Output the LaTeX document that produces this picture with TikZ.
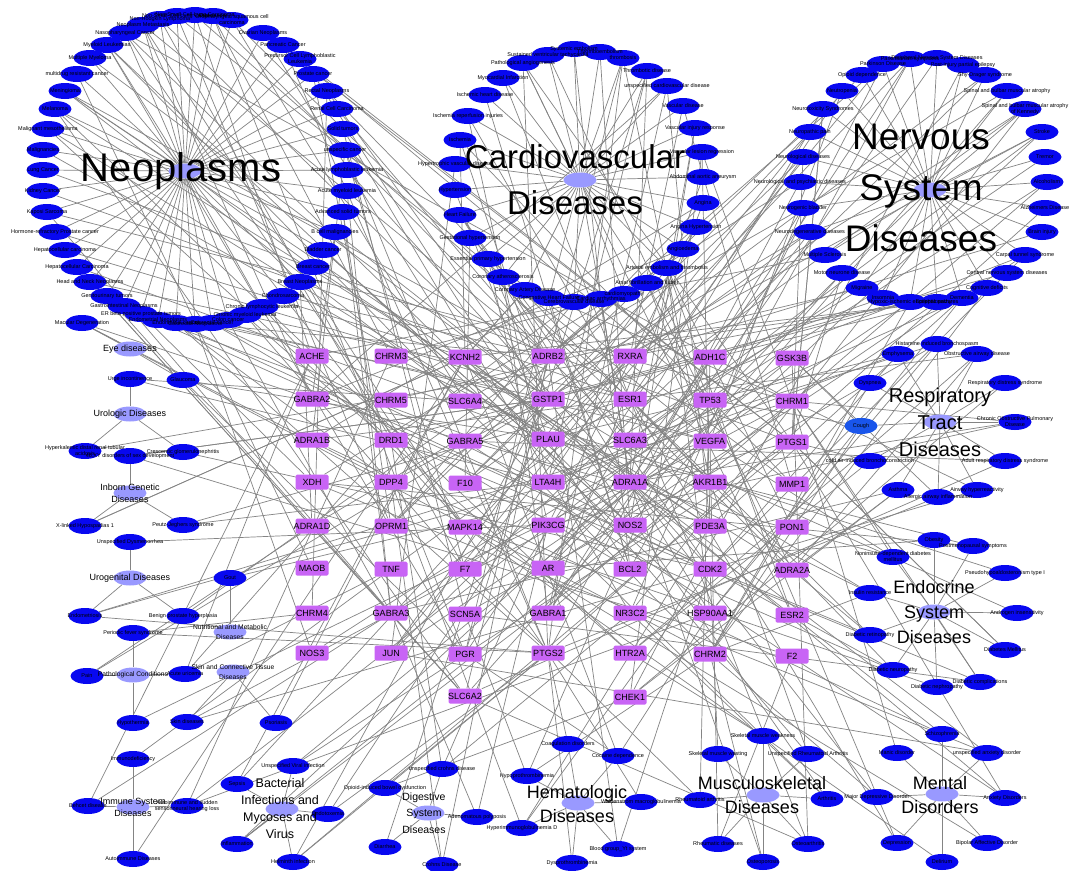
\documentclass[tikz,border=0pt]{standalone}
\usepackage{fontspec}
\usepackage{etoolbox}
\setmainfont{Liberation Sans}
\usetikzlibrary{shapes.geometric}
\definecolor{leafblue}{RGB}{8,8,240}
\definecolor{coughblue}{RGB}{25,85,235}
\definecolor{hubcol}{RGB}{153,153,255}
\definecolor{genecol}{RGB}{200,100,245}
\definecolor{edgecol}{RGB}{132,132,132}
\pgfdeclarelayer{bg}
\pgfsetlayers{bg,main}
\newcounter{lfc}
\newcommand{\myfs}[2]{\fontsize{#1}{#2}\selectfont}
\newcommand{\leaftexts}{}
\newcommand{\hubedges}{}
\tikzset{
  leaf/.style={ellipse, fill=leafblue, minimum width=33pt, minimum height=16pt, inner sep=0pt},
  cough/.style={leaf, fill=coughblue},
  ltext/.style={font=\myfs{5.5}{6}, align=center, inner sep=0pt, text=black},
  hub/.style={ellipse, fill=hubcol, minimum width=33pt, minimum height=15pt, inner sep=0pt},
  genebox/.style={rectangle, rounded corners=1.5pt, fill=genecol, minimum width=33pt, minimum height=15pt, inner sep=0pt},
  gtext/.style={font=\myfs{9}{10}, inner sep=0pt, text=black},
  edge/.style={draw=edgecol, line width=0.7pt},
  bigl/.style={align=center, inner sep=0pt, text=black},
}
\newcommand{\leafnode}[5][leaf]{%
  \stepcounter{lfc}%
  \node[#1] (L\arabic{lfc}) at (#2,#3) {};%
  \xappto\leaftexts{\noexpand\node[ltext] (L\arabic{lfc}t) at (L\arabic{lfc}) {\unexpanded{#4}};}%
  \xappto\hubedges{\noexpand\draw[edge] (L\arabic{lfc}) -- (#5);}%
}
\newcommand{\genenode}[3]{%
  \node[genebox] (#1) at (#2,#3) {};%
  \node[gtext] (#1t) at (#2,#3) {#1};%
}
\begin{document}
\begin{tikzpicture}[x=1pt,y=-1pt]
\useasboundingbox (0,0) rectangle (1072,871);

% ---------------- hubs ----------------
\node[hub] (hNeo) at (185,171) {};
\node[hub] (hCV) at (580,180) {};
\node[hub] (hNerv) at (930,190) {};
\node[hub] (hResp) at (940,422) {};
\node[hub] (hEndo) at (934,612) {};
\node[hub] (hMent) at (942,794) {};
\node[hub] (hMusc) at (763,795) {};
\node[hub] (hHem) at (578,803) {};
\node[hub] (hDig) at (428,813) {};
\node[hub] (hBac) at (282,809) {};
\node[hub] (hImm) at (133,807) {};
\node[hub] (hSkin) at (233,672) {};
\node[hub] (hPat) at (133,675) {};
\node[hub] (hNut) at (230,632) {};
\node[hub] (hUrog) at (130,578) {};
\node[hub] (hInb) at (130,493) {};
\node[hub] (hUrol) at (130,414) {};
\node[hub] (hEye) at (130,349) {};

% ---------------- genes ----------------
\genenode{ACHE}{312}{356}
\genenode{CHRM3}{391}{356}
\genenode{KCNH2}{465}{357}
\genenode{ADRB2}{548}{356}
\genenode{RXRA}{630}{356}
\genenode{ADH1C}{710}{357}
\genenode{GSK3B}{792}{358}
\genenode{GABRA2}{312}{399}
\genenode{CHRM5}{391}{400}
\genenode{SLC6A4}{465}{401}
\genenode{GSTP1}{548}{399}
\genenode{ESR1}{630}{399}
\genenode{TP53}{710}{400}
\genenode{CHRM1}{792}{401}
\genenode{ADRA1B}{312}{440}
\genenode{DRD1}{391}{440}
\genenode{GABRA5}{465}{441}
\genenode{PLAU}{548}{439}
\genenode{SLC6A3}{630}{440}
\genenode{VEGFA}{710}{441}
\genenode{PTGS1}{792}{442}
\genenode{XDH}{312}{482}
\genenode{DPP4}{391}{482}
\genenode{F10}{465}{483}
\genenode{LTA4H}{548}{482}
\genenode{ADRA1A}{630}{482}
\genenode{AKR1B1}{710}{482}
\genenode{MMP1}{792}{484}
\genenode{ADRA1D}{312}{526}
\genenode{OPRM1}{391}{526}
\genenode{MAPK14}{465}{527}
\genenode{PIK3CG}{548}{525}
\genenode{NOS2}{630}{525}
\genenode{PDE3A}{710}{526}
\genenode{PON1}{792}{527}
\genenode{MAOB}{312}{568}
\genenode{TNF}{391}{569}
\genenode{F7}{465}{569}
\genenode{AR}{548}{568}
\genenode{BCL2}{630}{569}
\genenode{CDK2}{710}{569}
\genenode{ADRA2A}{792}{570}
\genenode{CHRM4}{312}{613}
\genenode{GABRA3}{391}{613}
\genenode{SCN5A}{465}{614}
\genenode{GABRA1}{548}{613}
\genenode{NR3C2}{630}{613}
\genenode{HSP90AA1}{710}{613}
\genenode{ESR2}{792}{615}
\genenode{NOS3}{312}{653}
\genenode{JUN}{391}{653}
\genenode{PGR}{465}{654}
\genenode{PTGS2}{548}{653}
\genenode{HTR2A}{630}{653}
\genenode{CHRM2}{710}{654}
\genenode{F2}{792}{656}
\genenode{SLC6A2}{465}{696}
\genenode{CHEK1}{630}{697}

% ---------------- Neoplasms ----------------
\leafnode{347}{170}{Acute lymphoblastic leukemia}{hNeo}
\leafnode{347}{191}{Acute myeloid leukemia}{hNeo}
\leafnode{343}{212}{Advanced solid tumors}{hNeo}
\leafnode{335}{232}{B cell malignancies}{hNeo}
\leafnode{323}{250}{Bladder cancer}{hNeo}
\leafnode{313}{267}{Breast cancer}{hNeo}
\leafnode{300}{282}{Breast Neoplasms}{hNeo}
\leafnode{283}{296}{Chondrosarcoma}{hNeo}
\leafnode{262}{307}{Chronic lymphocytic leukemia}{hNeo}
\leafnode{245}{315}{Chronic myeloid leukemia}{hNeo}
\leafnode{228}{320}{Colon cancer}{hNeo}
\leafnode{212}{323}{Colorectal cancer}{hNeo}
\leafnode{195}{324}{Colorectal Neoplasms}{hNeo}
\leafnode{176}{323}{Endometrial cancer}{hNeo}
\leafnode{158}{320}{Endometrial Neoplasms}{hNeo}
\leafnode{141}{314}{ER beta positive prostate tumors}{hNeo}
\leafnode{124}{306}{Gastrointestinal Neoplasms}{hNeo}
\leafnode{107}{296}{Genitourinary tumors}{hNeo}
\leafnode{90}{282}{Head and Neck Neoplasms}{hNeo}
\leafnode{77}{267}{Hepatocellular Carcinoma}{hNeo}
\leafnode{65}{250}{Hepatocellular carcinoma}{hNeo}
\leafnode{55}{232}{Hormone-refractory Prostate cancer}{hNeo}
\leafnode{47}{212}{Kaposi Sarcoma}{hNeo}
\leafnode{43}{191}{Kidney Cancer}{hNeo}
\leafnode{43}{170}{Lung Cancer}{hNeo}
\leafnode{43}{150}{Malignancies}{hNeo}
\leafnode{48}{129}{Malignant mesothelioma}{hNeo}
\leafnode{55}{109}{Melanoma}{hNeo}
\leafnode{65}{91}{Meningioma}{hNeo}
\leafnode{77}{74}{multidrug resistant cancer}{hNeo}
\leafnode{90}{58}{Multiple Myeloma}{hNeo}
\leafnode{107}{45}{Myeloid Leukemias}{hNeo}
\leafnode{125}{33}{Nasopharyngeal Cancer}{hNeo}
\leafnode{143}{25}{Neoplasm Metastasis}{hNeo}
\leafnode{160}{19}{Non-Hodgkin Lymphoma}{hNeo}
\leafnode{177}{16}{Non-Small-Cell Lung Cancer}{hNeo}
\leafnode{195}{15}{Non-Small-Cell-Lung Carcinoma}{hNeo}
\leafnode{213}{16}{Oral cancer}{hNeo}
\leafnode{232}{20}{Oropharyngeal squamous cell\\carcinoma}{hNeo}
\leafnode{263}{33}{Ovarian Neoplasms}{hNeo}
\leafnode{283}{45}{Pancreatic Cancer}{hNeo}
\leafnode{300}{59}{Precursor Cell Lymphoblastic\\Leukemia}{hNeo}
\leafnode{313}{74}{Prostate cancer}{hNeo}
\leafnode{327}{91}{Rectal Neoplasms}{hNeo}
\leafnode{337}{109}{Renal Cell Carcinoma}{hNeo}
\leafnode{343}{129}{Solid tumors}{hNeo}
\leafnode{345}{150}{unspecific cancer}{hNeo}

% ---------------- Cardiovascular ----------------
\leafnode{703}{177}{Abdominal aortic aneurysm}{hCV}
\leafnode{703}{203}{Angina}{hCV}
\leafnode{696}{227}{Angina Hypertension}{hCV}
\leafnode{683}{249}{Angioedema}{hCV}
\leafnode{667}{268}{Arterial embolism and thrombosis}{hCV}
\leafnode{647}{283}{Atrial fibrillation and flutter}{hCV}
\leafnode{624}{294}{cardiomyopathy}{hCV}
\leafnode{601}{299}{Cardiac arrhythmias}{hCV}
\leafnode{574}{302}{Cerebrovascular disease}{hCV}
\leafnode{549}{298}{Congestive Heart Failure}{hCV}
\leafnode{525}{290}{Coronary Artery Disease}{hCV}
\leafnode{503}{277}{Coronary atherosclerosis}{hCV}
\leafnode{488}{259}{Essential primary hypertension}{hCV}
\leafnode{470}{238}{Gestational hypertension}{hCV}
\leafnode{460}{215}{Heart Failure}{hCV}
\leafnode{455}{190}{Hypertension}{hCV}
\leafnode{455}{164}{Hypertrophic vascular disease}{hCV}
\leafnode{460}{140}{Ischemia}{hCV}
\leafnode{468}{116}{Ischemia reperfusion injuries}{hCV}
\leafnode{485}{95}{Ischemic heart disease}{hCV}
\leafnode{503}{78}{Myocardial Infarction}{hCV}
\leafnode{523}{63}{Pathological angiogenesis}{hCV}
\leafnode{548}{55}{Sustained ventricular tachycardia}{hCV}
\leafnode{574}{49}{Systemic embolism}{hCV}
\leafnode{600}{52}{Thromboembolism}{hCV}
\leafnode{623}{58}{thrombosis}{hCV}
\leafnode{647}{71}{Thrombotic disease}{hCV}
\leafnode{667}{86}{unspecified cardiovascular disease}{hCV}
\leafnode{683}{106}{Vascular disease}{hCV}
\leafnode{695}{128}{Vascular injury response}{hCV}
\leafnode{702}{152}{Vascular lesion regression}{hCV}

% ---------------- Nervous ----------------
\leafnode{1047}{182}{Alcoholism}{hNerv}
\leafnode{1045}{208}{Alzheimers Disease}{hNerv}
\leafnode{1042}{232}{Brain injury}{hNerv}
\leafnode{1025}{255}{Carpal tunnel syndrome}{hNerv}
\leafnode{1007}{273}{Central nervous system diseases}{hNerv}
\leafnode{987}{288}{Cognitive deficits}{hNerv}
\leafnode{962}{298}{Dementia}{hNerv}
\leafnode{937}{302}{Epileptic seizures}{hNerv}
\leafnode{910}{302}{Hypoxic-ischemic encephalopathy}{hNerv}
\leafnode{883}{298}{Insomnia}{hNerv}
\leafnode{862}{288}{Migraine}{hNerv}
\leafnode{842}{273}{Motor neurone disease}{hNerv}
\leafnode{825}{255}{Multiple Sclerosis}{hNerv}
\leafnode{810}{232}{Neurodegenerative diseases}{hNerv}
\leafnode{803}{208}{Neurogenic bladder}{hNerv}
\leafnode{800}{182}{Neurological and psychiatric diseases}{hNerv}
\leafnode{803}{157}{Neurological diseases}{hNerv}
\leafnode{810}{132}{Neuropathic pain}{hNerv}
\leafnode{823}{109}{Neurotoxicity Syndromes}{hNerv}
\leafnode{842}{91}{Neutropenia}{hNerv}
\leafnode{862}{75}{Opioid dependence}{hNerv}
\leafnode{883}{64}{Parkinson Disease}{hNerv}
\leafnode{910}{59}{Parkinsonian symptoms}{hNerv}
\leafnode{937}{58}{Peripheral Nervous System Diseases}{hNerv}
\leafnode{963}{65}{Post-injury partial epilepsy}{hNerv}
\leafnode{985}{75}{Shy-Drager syndrome}{hNerv}
\leafnode{1007}{91}{Spinal and bulbar muscular atrophy}{hNerv}
\leafnode{1025}{109}{Spinal and bulbar muscular atrophy\\of Kennedy}{hNerv}
\leafnode{1042}{132}{Stroke}{hNerv}
\leafnode{1045}{157}{Tremor}{hNerv}

% ---------------- Respiratory ----------------
\leafnode{937}{344}{Histamine induced bronchospasm}{hResp}
\leafnode{898}{354}{Emphysema}{hResp}
\leafnode{977}{354}{Obstructive airway disease}{hResp}
\leafnode{870}{383}{Dyspnea}{hResp}
\leafnode{1005}{383}{Respiratory distress syndrome}{hResp}
\leafnode[cough]{861}{426}{Cough}{hResp}
\leafnode{1015}{422}{Chronic Obstructive Pulmonary\\Disease}{hResp}
\leafnode{870}{461}{cold air-induced bronchoconstriction}{hResp}
\leafnode{1005}{461}{Adult respiratory distress syndrome}{hResp}
\leafnode{898}{490}{Asthma}{hResp}
\leafnode{977}{490}{Airway hyperreactivity}{hResp}
\leafnode{938}{497}{Allergic airway inflammation}{hResp}

% ---------------- Endocrine ----------------
\leafnode{934}{540}{Obesity}{hEndo}
\leafnode{973}{546}{Postmenopausal symptoms}{hEndo}
\leafnode{893}{557}{Noninsulin-dependent diabetes\\mellitus}{hEndo}
\leafnode{1005}{573}{Pseudohypoaldosteronism type I}{hEndo}
\leafnode{870}{593}{Insulin resistance}{hEndo}
\leafnode{1017}{613}{Androgen insensitivity}{hEndo}
\leafnode{870}{635}{Diabetic retinopathy}{hEndo}
\leafnode{1005}{650}{Diabetes Mellitus}{hEndo}
\leafnode{893}{670}{Diabetic neuropathy}{hEndo}
\leafnode{937}{687}{Diabetic nephropathy}{hEndo}
\leafnode{980}{682}{Diabetic complications}{hEndo}

% ---------------- Mental ----------------
\leafnode{1005}{798}{Anxiety Disorders}{hMent}
\leafnode{987}{843}{Bipolar Affective Disorder}{hMent}
\leafnode{942}{862}{Delirium}{hMent}
\leafnode{897}{843}{Depression}{hMent}
\leafnode{877}{797}{Major Depressive Disorder}{hMent}
\leafnode{897}{753}{Manic disorder}{hMent}
\leafnode{942}{734}{Schizophrenia}{hMent}
\leafnode{987}{753}{unspecified anxiety disorder}{hMent}

% ---------------- Musculoskeletal ----------------
\leafnode{827}{799}{Arthritis}{hMusc}
\leafnode{808}{844}{Osteoarthritis}{hMusc}
\leafnode{763}{862}{Osteoporosis}{hMusc}
\leafnode{718}{844}{Rheumatic diseases}{hMusc}
\leafnode{700}{800}{Rheumatoid arthritis}{hMusc}
\leafnode{718}{754}{Skeletal muscle wasting}{hMusc}
\leafnode{763}{736}{Skeletal muscle weakness}{hMusc}
\leafnode{808}{754}{Unspecified Rheumatoid Arthritis}{hMusc}

% ---------------- Hematologic ----------------
\leafnode{618}{849}{Blood group\_Yt system}{hHem}
\leafnode{568}{744}{Coagulation disorders}{hHem}
\leafnode{618}{756}{Cocaine dependence}{hHem}
\leafnode{572}{863}{Dysprothrombinemia}{hHem}
\leafnode{522}{828}{Hyperimmunoglobulinemia D}{hHem}
\leafnode{527}{776}{Hypoprothrombinemia}{hHem}
\leafnode{641}{802}{Waldenstrom macroglobulinemia}{hHem}

% ---------------- Digestive ----------------
\leafnode{477}{817}{Adenomatous polyposis}{hDig}
\leafnode{442}{865}{Crohns Disease}{hDig}
\leafnode{385}{847}{Diarrhea}{hDig}
\leafnode{385}{788}{Opioid-induced bowel dysfunction}{hDig}
\leafnode{442}{769}{unspecified crohns disease}{hDig}

% ---------------- Bacterial ----------------
\leafnode{328}{814}{Endotoxemia}{hBac}
\leafnode{293}{862}{Helminth infection}{hBac}
\leafnode{237}{844}{Inflammation}{hBac}
\leafnode{237}{784}{Sepsis}{hBac}
\leafnode{293}{766}{Unspecified Viral infection}{hBac}

% ---------------- Immune ----------------
\leafnode{187}{806}{Autoimmune and sudden\\sensorineural hearing loss}{hImm}
\leafnode{133}{859}{Autoimmune Diseases}{hImm}
\leafnode{88}{806}{Behcet disease}{hImm}
\leafnode{133}{759}{Immunodeficiency}{hImm}

% ---------------- small clusters ----------------
\leafnode{276}{723}{Psoriasis}{hSkin}
\leafnode{187}{722}{Skin diseases}{hSkin}
\leafnode{185}{674}{Acute uricemia}{hPat}
\leafnode{133}{723}{Hypothermia}{hPat}
\leafnode{87}{676}{Pain}{hPat}
\leafnode{133}{633}{Periodic fever syndrome}{hPat}
\leafnode{230}{578}{Gout}{hNut}
\leafnode{130}{542}{Unspecified Dysmenorrhea}{hUrog}
\leafnode{85}{616}{Endometriosis}{hUrog}
\leafnode{183}{616}{Benign prostate hyperplasia}{hUrog}
\leafnode{130}{456}{46,XY disorders of sex development}{hInb}
\leafnode{85}{526}{X-linked Hypospadias 1}{hInb}
\leafnode{183}{525}{Peutz-Jeghers syndrome}{hInb}
\leafnode{130}{379}{Urge incontinence}{hUrol}
\leafnode{85}{451}{Hyperkalemic distal renal tubular\\acidosis}{hUrol}
\leafnode{183}{452}{Crescentic glomerulonephritis}{hUrol}
\leafnode{183}{380}{Glaucoma}{hEye}
\leafnode{82}{323}{Macular Degeneration}{hEye}

% ---------------- texts of the leaves ----------------
\leaftexts

% ---------------- connectors (background layer) ----------------
\edef\nl{\arabic{lfc}}
\pgfmathsetseed{20240}
\pgfmathdeclarerandomlist{gl}{{ACHE}{CHRM3}{KCNH2}{KCNH2}{ADRB2}{ADRB2}{ADRB2}{RXRA}{ADH1C}{GSK3B}{GABRA2}{CHRM5}{SLC6A4}{GSTP1}{GSTP1}{GSTP1}{ESR1}{ESR1}{TP53}{CHRM1}{CHRM1}{ADRA1B}{DRD1}{GABRA5}{PLAU}{SLC6A3}{VEGFA}{PTGS1}{PTGS1}{XDH}{DPP4}{F10}{LTA4H}{ADRA1A}{ADRA1A}{AKR1B1}{MMP1}{ADRA1D}{OPRM1}{MAPK14}{PIK3CG}{PIK3CG}{NOS2}{NOS2}{PDE3A}{PON1}{MAOB}{TNF}{F7}{AR}{BCL2}{CDK2}{CDK2}{ADRA2A}{CHRM4}{GABRA3}{SCN5A}{GABRA1}{NR3C2}{HSP90AA1}{ESR2}{NOS3}{JUN}{PGR}{PTGS2}{PTGS2}{PTGS2}{PTGS2}{HTR2A}{CHRM2}{CHRM2}{F2}{SLC6A2}{CHEK1}}
\begin{pgfonlayer}{bg}
\fill[white] (0,0) rectangle (1072,871);
\hubedges
\foreach \i in {1,...,\nl}{
  \pgfmathrandominteger{\k}{1}{3}
  \foreach \j in {1,...,\k}{
    \pgfmathrandomitem{\g}{gl}
    \draw[edge] (L\i) -- (\g);
  }
}
\end{pgfonlayer}

% ---------------- cluster labels ----------------
\node[bigl, font=\myfs{40}{48}] (tNeo) at (181,171) {Neoplasms};
\node[bigl, font=\myfs{33}{46}] (tCV) at (575,180) {Cardiovascular\\Diseases};
\node[bigl, font=\myfs{37}{51}] (tNerv) at (921,188) {Nervous\\System\\Diseases};
\node[bigl, font=\myfs{20}{27}] (tResp) at (940,422) {Respiratory\\Tract\\Diseases};
\node[bigl, font=\myfs{18}{25}] (tEndo) at (934,612) {Endocrine\\System\\Diseases};
\node[bigl, font=\myfs{18}{24}] (tMent) at (940,795) {Mental\\Disorders};
\node[bigl, font=\myfs{18}{24}] (tMusc) at (762,795) {Musculoskeletal\\Diseases};
\node[bigl, font=\myfs{18}{24}] (tHem) at (577,804) {Hematologic\\Diseases};
\node[bigl, font=\myfs{10.5}{16.5}] (tDig) at (424,813) {Digestive\\System\\Diseases};
\node[bigl, font=\myfs{12.5}{17}] (tBac) at (280,809) {Bacterial\\Infections and\\Mycoses and\\Virus};
\node[bigl, font=\myfs{9}{12}] (tImm) at (133,807) {Immune System\\Diseases};
\node[bigl, font=\myfs{9}{12}] (tInb) at (130,493) {Inborn Genetic\\Diseases};
\node[bigl, font=\myfs{9}{12}] (tUrol) at (130,414) {Urologic Diseases};
\node[bigl, font=\myfs{9}{12}] (tUrog) at (130,578) {Urogenital Diseases};
\node[bigl, font=\myfs{9}{12}] (tEye) at (130,349) {Eye diseases};
\node[bigl, font=\myfs{6.7}{9.5}] (tNut) at (230,632) {Nutritional and Metabolic\\Diseases};
\node[bigl, font=\myfs{6.7}{9.5}] (tSkin) at (233,672) {Skin and Connective Tissue\\Diseases};
\node[bigl, font=\myfs{6.7}{9.5}] (tPat) at (133,675) {Pathological Conditions};
\end{tikzpicture}
\end{document}
